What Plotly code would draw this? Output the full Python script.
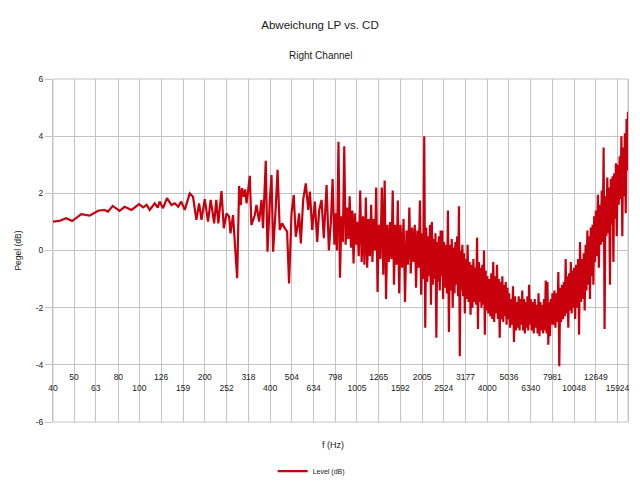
import plotly.graph_objects as go
import math

# ---------------- data ----------------
# low / mid frequency part: individually resolved points
freq_low = [40, 43, 46, 49, 54, 59, 64.5, 69, 71.7, 75.4, 81, 85.5, 92, 99.6, 104, 108,
            111.5, 117.6, 121.5, 124, 128.5, 134, 140.5, 145.5, 150.9, 155.8, 161.8,
            170.6, 176.6, 183, 188.3, 193.2, 200, 207, 213, 221, 226, 231, 238.8, 244.8,
            252, 259, 262.8, 270, 282, 288, 293, 297, 303, 307, 311.5, 317, 322.5, 328,
            340, 346, 356, 365, 371, 382, 389, 399, 406, 413, 424, 433, 443, 454, 468,
            479, 489, 502, 514, 525, 535, 544, 554, 568, 584, 599, 610, 625, 643, 659,
            673, 690, 707, 728, 746, 762, 776, 791]
level_low = [1.01, 1.04, 1.13, 1.03, 1.27, 1.22, 1.39, 1.42, 1.36, 1.56, 1.39, 1.53, 1.42,
             1.62, 1.51, 1.60, 1.42, 1.65, 1.50, 1.71, 1.48, 1.83, 1.59, 1.65, 1.53, 1.71,
             1.42, 2.00, 1.88, 1.07, 1.65, 1.07, 1.80, 1.01, 1.77, 0.95, 1.77, 0.95, 2.08,
             0.78, 1.30, 1.18, 0.60, 1.24, -0.97, 2.26, 1.59, 2.18, 1.88, 2.14, 1.65, 2.12,
             2.61, 0.89, 1.24, 1.59, 1.01, 1.77, 0.78, 3.14, -0.04, 1.77, 2.64, -0.04, 1.42,
             2.82, 0.72, 0.95, 0.77, 0.66, -1.15, 1.30, 1.94, 0.48, 0.83, 1.30, 0.25, 1.77,
             2.35, 1.42, 2.06, 0.72, 1.71, 0.30, 1.40, 1.77, 0.43, 2.29, 0.00, 1.00, 2.50,
             0.20]

# 800 Hz - 2 kHz: dense measurement points
freq_mid = [800, 813, 826, 839, 852, 865, 878, 891, 904, 917, 930, 943, 956, 969, 982, 995,
            1008, 1024, 1040, 1056, 1072, 1088, 1104, 1120, 1136, 1152, 1168, 1184, 1200, 1216, 1232, 1250,
            1268, 1288, 1308, 1328, 1348, 1368, 1388, 1408, 1428, 1448, 1468, 1488, 1508, 1528, 1550, 1572,
            1595, 1621, 1647, 1673, 1699, 1725, 1751, 1777, 1803, 1829, 1855, 1881, 1907, 1933, 1959, 1985]
level_mid = [1.3, 0.0, 3.8, -0.95, 1.2, 0.3, 3.65, 0.2, 1.5, 0.4, 1.9, 0.1, 1.4, -0.45, 1.3, 0.2,
             1.0, -0.2, 2.1, -0.4, 1.2, -0.5, 1.85, -0.6, 1.1, -0.2, 1.6, -0.4, 1.1, 0.0, 2.2, -1.45,
             0.9, -0.3, 2.2, -0.85, 2.45, -1.7, 0.9, -0.4, 1.0, -0.3, 2.1, -1.2, 0.9, -0.5, 1.75, -1.5,
             0.9, -0.6, 1.1, -1.8, 0.7, -0.5, 1.5, -0.8, 0.8, -0.4, 0.9, -1.3, 0.7, -0.6, 1.75, -1.55]

# 2 kHz - 17.8 kHz: very dense measurement points
freq_high = [2008, 2030, 2051, 2073, 2094, 2116, 2138, 2159, 2181, 2202, 2224, 2246, 2267, 2289, 2310, 2332, 2354, 2375, 2397, 2418, 2440, 2462, 2483, 2505,
             2528, 2555, 2582, 2610, 2637, 2664, 2691, 2718, 2746, 2773, 2800, 2827, 2854, 2882, 2909, 2936, 2963, 2990, 3018, 3045, 3072, 3099, 3126, 3154,
             3180, 3214, 3249, 3283, 3317, 3352, 3386, 3420, 3454, 3489, 3523, 3557, 3592, 3626, 3660, 3694, 3729, 3763, 3797, 3832, 3866, 3900, 3934, 3969,
             4004, 4047, 4090, 4134, 4177, 4220, 4263, 4306, 4350, 4393, 4436, 4479, 4522, 4566, 4609, 4652, 4695, 4738, 4782, 4825, 4868, 4911, 4954, 4998,
             5040, 5094, 5149, 5203, 5257, 5312, 5366, 5420, 5474, 5529, 5583, 5637, 5692, 5746, 5800, 5855, 5909, 5963, 6017, 6072, 6126, 6180, 6235, 6289,
             6345, 6413, 6482, 6550, 6618, 6687, 6755, 6824, 6892, 6960, 7029, 7097, 7166, 7234, 7302, 7371, 7439, 7508, 7576, 7644, 7713, 7781, 7850, 7918,
             7986, 8072, 8158, 8244, 8330, 8416, 8503, 8589, 8675, 8761, 8847, 8933, 9019, 9105, 9191, 9278, 9364, 9450, 9536, 9622, 9708, 9794, 9880, 9966,
             10052, 10160, 10269, 10377, 10486, 10594, 10702, 10811, 10919, 11028, 11136, 11245, 11353, 11461, 11570, 11678, 11787, 11895, 12003, 12112, 12220, 12329, 12437, 12546,
             12655, 12791, 12928, 13064, 13201, 13337, 13474, 13610, 13747, 13883, 14020, 14156, 14293, 14429, 14566, 14702, 14839, 14975, 15112, 15248, 15385, 15521, 15658, 15794,
             15980, 16135, 16290, 16445, 16600, 16755, 16910, 17065, 17220, 17375, 17530, 17665, 17800]
level_high = [0.6, -1.0, 4.0, -2.7, 0.8, -1.1, 0.5, -0.9, 0.9, -1.9, 1.0, -1.2, 0.4, -1.0, 0.6, -3.05, 0.3, -1.1, 0.5, -1.4, 0.7, -0.9, 0.7, -1.7,
              0.3, -1.3, 0.2, -1.5, 1.4, -2.85, 0.2, -1.4, 0.4, -2.0, 0.1, -1.5, 0.3, -1.2, 0.5, -1.6, 1.55, -3.7, 0.0, -1.4, 0.2, -1.6, -0.1, -2.2,
              -0.3, -1.7, 0.2, -1.8, -0.4, -2.25, -0.5, -2.0, -0.3, -1.8, -0.6, -1.9, 0.45, -2.75, -0.4, -1.8, -0.6, -2.0, -0.5, -1.9, 0.0, -2.95, -0.7, -2.1,
              -0.9, -2.2, -1.0, -2.3, -0.8, -2.4, -0.4, -2.5, -0.9, -2.2, -0.5, -2.4, -1.0, -3.05, -1.1, -2.4, -0.9, -2.5, -1.2, -2.3, -1.1, -2.6, -1.3, -2.4,
              -1.5, -2.7, -1.7, -2.6, -1.25, -3.2, -1.6, -2.8, -1.8, -2.7, -1.6, -2.8, -1.7, -2.6, -1.4, -2.8, -1.7, -2.9, -1.8, -2.7, -1.6, -2.8, -1.2, -2.6,
              -1.7, -2.8, -1.8, -2.9, -1.7, -2.7, -1.9, -2.9, -1.5, -3.0, -1.8, -2.8, -1.9, -2.9, -1.7, -2.8, -1.05, -2.9, -1.1, -3.3, -1.8, -3.0, -1.7, -2.6,
              -1.5, -2.6, -1.4, -2.7, -1.5, -2.5, -0.75, -4.05, -1.3, -2.5, -1.2, -2.4, -1.1, -2.3, -0.3, -2.2, -0.9, -2.7, -0.8, -2.1, -0.4, -2.2, -0.7, -2.0,
              -0.6, -2.4, -0.5, -2.0, -0.3, -2.95, 0.3, -1.8, -0.3, -1.7, -0.1, -2.1, 0.2, -1.4, 0.7, -1.2, 0.5, -1.7, 0.8, -0.9, 0.9, -1.2, 1.2, -0.4,
              1.4, -0.2, 1.95, -0.6, 1.6, 0.2, 2.1, 0.3, 3.6, -2.75, 1.9, 0.5, 2.55, 0.6, 2.2, -1.2, 2.5, 0.9, 2.6, -0.4, 2.7, 1.1, 3.05, 0.5,
              3.0, 1.6, 3.3, 1.8, 4.0, 0.5, 3.6, 1.9, 4.1, 1.3, 4.6, 2.8, 4.85]

# axis ticks
tick_hz = [40, 50, 63, 80, 100, 126, 159, 200, 252, 318, 400, 504, 634, 798, 1005, 1265,
           1592, 2005, 2524, 3177, 4000, 5036, 6340, 7981, 10048, 12649, 15924]
tick_labels = [str(v) for v in tick_hz]
y_ticks = [-6, -4, -2, 0, 2, 4, 6]
y_tick_labels = ["-6", "-4", "-2", "0", "2", "4", "6"]

freq_hz = freq_low + freq_mid + freq_high
level_db = level_low + level_mid + level_high

# ---------------- figure ----------------
FONT = "Liberation Sans, Arial, sans-serif"
GRID = "#c4c4c4"
RED = "#c8000e"
TXT = "#1a1a1a"

xrange = [math.log10(40), math.log10(17800)]
# staggered labels: every second label one row lower
stag_text = [("<br>" + t) if i % 2 == 0 else t for i, t in enumerate(tick_labels)]

fig = go.Figure()
fig.add_trace(go.Scatter(x=freq_hz, y=level_db, mode="lines", name="Level (dB)",
                         line=dict(color=RED, width=2.2, simplify=False)))

fig.update_layout(
    width=640, height=485,
    margin=dict(l=53, r=12, t=79, b=63, autoexpand=False),
    paper_bgcolor="white", plot_bgcolor="white",
    font=dict(family=FONT, color=TXT, size=9),
    title=dict(text="Abweichung LP vs. CD", x=0.5, xref="container", xanchor="center",
               y=1 - 25 / 485, yref="container", yanchor="middle",
               font=dict(size=11.5, color=TXT, family=FONT)),
    annotations=[
        dict(text="Right Channel", x=0.5, xref="paper", xanchor="center",
             y=1 + 24 / 343, yref="paper", yanchor="middle", showarrow=False,
             xshift=320 - 340.5,
             font=dict(size=10, color=TXT, family=FONT)),
        dict(text="f (Hz)", x=(333 - 53) / 575, xref="paper", xanchor="center",
             y=(422 - 445) / 343, yref="paper", yanchor="middle", showarrow=False,
             font=dict(size=9, color=TXT, family=FONT)),
    ],
    shapes=[dict(type="rect", xref="paper", yref="paper", x0=0, x1=1, y0=0, y1=1,
                 line=dict(color=GRID, width=1), fillcolor="rgba(0,0,0,0)", layer="below")],
    xaxis=dict(type="log", range=xrange, tickvals=tick_hz, ticktext=stag_text,
               anchor="free", position=1 / 6, automargin=False,
               showgrid=True, gridcolor=GRID, gridwidth=1, zeroline=False,
               showline=False, ticks="", tickangle=0, ticklabelstandoff=6,
               tickfont=dict(size=8.5, color=TXT)),
    yaxis=dict(range=[-6, 6], tickvals=y_ticks, ticktext=y_tick_labels, automargin=False,
               showgrid=True, gridcolor=GRID, gridwidth=1, zeroline=False,
               showline=True, mirror=True, linecolor=GRID, linewidth=1,
               ticks="outside", ticklen=7, tickcolor=GRID,
               tickfont=dict(size=8.5, color=TXT),
               title=dict(text="Pegel (dB)", standoff=12, font=dict(size=8.5, color=TXT))),
    showlegend=True,
    legend=dict(orientation="h", x=0.449, xanchor="center", y=-0.143, yanchor="middle",
                font=dict(size=7, color=TXT), bgcolor="rgba(0,0,0,0)"),
)

fig.write_html("out.html")
